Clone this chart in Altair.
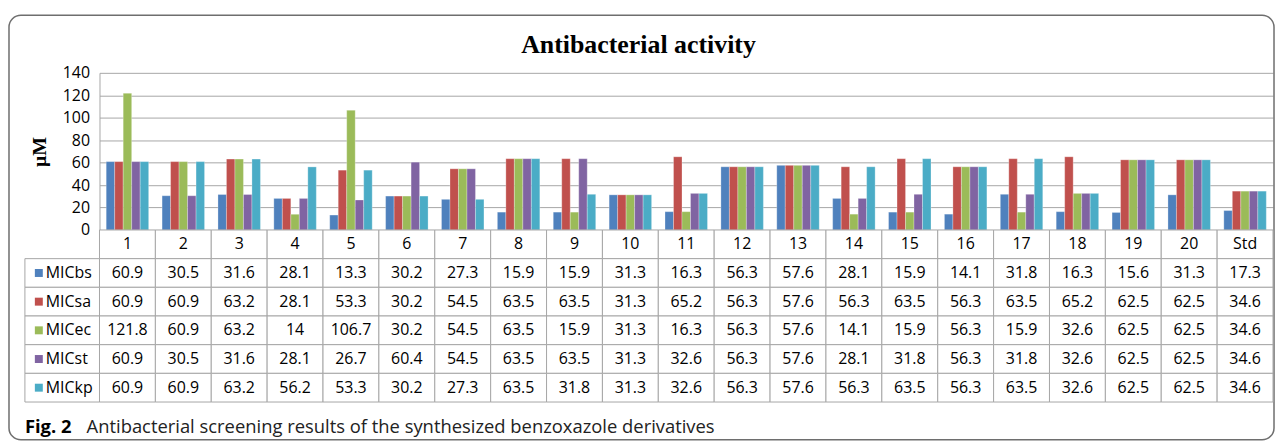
import altair as alt
import pandas as pd

categories = [str(i) for i in range(1, 21)] + ["Std"]
series = ["MICbs", "MICsa", "MICec", "MICst", "MICkp"]
colors = ["#4F81BD", "#C0504D", "#9BBB59", "#8064A2", "#4BACC6"]

mic_bs = [60.9, 30.5, 31.6, 28.1, 13.3, 30.2, 27.3, 15.9, 15.9, 31.3, 16.3, 56.3, 57.6, 28.1, 15.9, 14.1, 31.8, 16.3, 15.6, 31.3, 17.3]
mic_sa = [60.9, 60.9, 63.2, 28.1, 53.3, 30.2, 54.5, 63.5, 63.5, 31.3, 65.2, 56.3, 57.6, 56.3, 63.5, 56.3, 63.5, 65.2, 62.5, 62.5, 34.6]
mic_ec = [121.8, 60.9, 63.2, 14, 106.7, 30.2, 54.5, 63.5, 15.9, 31.3, 16.3, 56.3, 57.6, 14.1, 15.9, 56.3, 15.9, 32.6, 62.5, 62.5, 34.6]
mic_st = [60.9, 30.5, 31.6, 28.1, 26.7, 60.4, 54.5, 63.5, 63.5, 31.3, 32.6, 56.3, 57.6, 28.1, 31.8, 56.3, 31.8, 32.6, 62.5, 62.5, 34.6]
mic_kp = [60.9, 60.9, 63.2, 56.2, 53.3, 30.2, 27.3, 63.5, 31.8, 31.3, 32.6, 56.3, 57.6, 56.3, 63.5, 56.3, 63.5, 32.6, 62.5, 62.5, 34.6]

title_text = "Antibacterial activity"
y_title = "μM"
y_ticks = [0, 20, 40, 60, 80, 100, 120, 140]
caption_bold = "Fig. 2"
caption_text = "Antibacterial screening results of the synthesized benzoxazole derivatives"

series_values = [mic_bs, mic_sa, mic_ec, mic_st, mic_kp]
records = []
for s, vals in zip(series, series_values):
    for c, v in zip(categories, vals):
        records.append({"category": c, "series": s, "value": v, "label": f"{v:g}"})
df = pd.DataFrame(records)

HDR = "#"
rows = [HDR] + series
tbl = [{"category": c, "row": HDR, "text": c} for c in categories]
tbl += [{"category": r["category"], "row": r["series"], "text": r["label"]} for r in records]
tdf = pd.DataFrame(tbl)
legdf = pd.DataFrame({"row": series})
one = pd.DataFrame({"a": [0]})

GRID = "#a6a6a6"
W = 1180

# ---------- bar chart ----------
frame = alt.Chart(one).mark_rect(fillOpacity=0, stroke="#6e6e6e", strokeWidth=1.5, cornerRadius=12).encode(
    x=alt.value(-91), x2=alt.value(1181), y=alt.value(-58), y2=alt.value(369)
)
title = alt.Chart(one).mark_text(
    text=title_text, font="Liberation Serif", fontSize=26, fontWeight="bold", align="center", baseline="alphabetic", color="black"
).encode(x=alt.value(542), y=alt.value(-20))

bars = alt.Chart(df).mark_bar(stroke="white", strokeWidth=0.4, strokeOpacity=0.7).encode(
    x=alt.X("category:N", sort=categories, scale=alt.Scale(domain=categories, paddingInner=0.24, paddingOuter=0.12), axis=None),
    xOffset=alt.XOffset("series:N", sort=series, scale=alt.Scale(domain=series, paddingInner=0, paddingOuter=0)),
    y=alt.Y("value:Q", scale=alt.Scale(domain=[0, 140], nice=False),
            axis=alt.Axis(values=y_ticks, title=y_title, ticks=False, labelPadding=10,
                          labelFont="Open Sans", labelFontSize=16, labelColor="black",
                          domainColor=GRID, gridColor=GRID, gridWidth=1,
                          titleFont="Liberation Serif", titleFontSize=20, titleFontWeight="bold", titleColor="black",
                          titleAngle=270, titleX=-60, titleY=79, titleAlign="center", titleBaseline="middle")),
    color=alt.Color("series:N", sort=series, scale=alt.Scale(domain=series, range=colors), legend=None),
)
bar_chart = alt.layer(frame, title, bars).properties(width=W, height=158)

# ---------- table ----------
xs = alt.X("category:N", sort=categories, scale=alt.Scale(domain=categories, paddingInner=0, paddingOuter=0), axis=None)
ys = alt.Y("row:N", sort=rows, scale=alt.Scale(domain=rows, paddingInner=0, paddingOuter=0), axis=None)

cells = alt.Chart(tdf).mark_rect(fill="white", stroke=GRID, strokeWidth=1).encode(x=xs, y=ys)
cell_text = alt.Chart(tdf).mark_text(font="Open Sans", fontSize=16, color="black").encode(x=xs, y=ys, text="text:N")

leg_cells = alt.Chart(legdf).mark_rect(fill="white", stroke=GRID, strokeWidth=1).encode(
    x=alt.value(-75), x2=alt.value(0), y=ys)
leg_sq = alt.Chart(legdf).mark_square(size=64, opacity=1).encode(
    x=alt.value(-61), y=ys,
    color=alt.Color("row:N", scale=alt.Scale(domain=series, range=colors), legend=None))
leg_txt = alt.Chart(legdf).mark_text(font="Open Sans", fontSize=16, align="left", color="black").encode(
    x=alt.value(-54), y=ys, text="row:N")

cap1 = alt.Chart(one).mark_text(text=caption_bold, font="Open Sans", fontSize=18.5,
                                fontWeight="bold", align="left", baseline="alphabetic", color="black").encode(
    x=alt.value(-75), y=alt.value(204))
cap2 = alt.Chart(one).mark_text(text=caption_text, font="Open Sans", fontSize=18.5,
                                align="left", baseline="alphabetic", color="#222222").encode(
    x=alt.value(-13), y=alt.value(204))

table_chart = alt.layer(cells, cell_text, leg_cells, leg_sq, leg_txt, cap1, cap2).properties(width=W, height=173)

chart = alt.vconcat(bar_chart, table_chart, spacing=0, bounds="flush").resolve_scale(
    x="independent", y="independent"
).properties(
    padding={"left": 0, "top": 5, "right": 0, "bottom": 0}
).configure_view(stroke=None)

chart.save("out.html", embed_options={"renderer": "svg", "actions": False})
